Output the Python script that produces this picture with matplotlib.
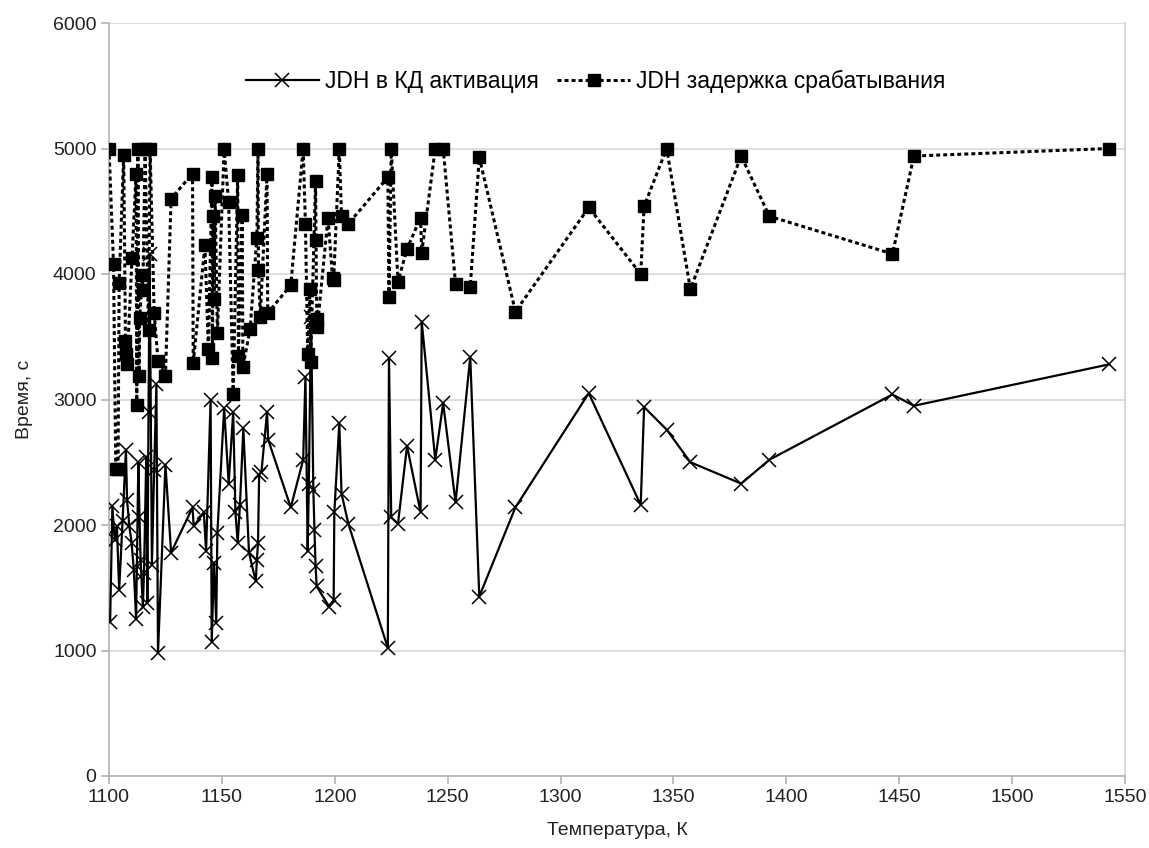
import matplotlib
matplotlib.use("Agg")
import matplotlib.pyplot as plt

plt.rcParams['font.family'] = ['Liberation Sans', 'DejaVu Sans']

# JDH в КД активация
act_temp = [1100.5, 1101.5, 1102.5, 1103.5, 1104.5, 1106.0, 1107.5, 1108.0, 1109.0, 1110.0,
            1111.0, 1112.0, 1113.0, 1113.5, 1114.0, 1115.0, 1115.5, 1116.5, 1117.0, 1117.5,
            1118.0, 1119.0, 1120.0, 1121.0, 1121.7, 1125.0, 1127.5, 1137.0, 1137.5, 1142.0,
            1143.0, 1145.0, 1145.5, 1146.5, 1147.5, 1148.0, 1151.0, 1153.0, 1155.0, 1156.0,
            1157.0, 1158.0, 1159.5, 1162.0, 1165.0, 1165.5, 1166.0, 1166.5, 1167.5, 1170.0,
            1170.5, 1180.5, 1186.0, 1187.0, 1188.0, 1188.5, 1189.5, 1190.5, 1191.0, 1191.5,
            1192.0, 1197.5, 1199.5, 1199.8, 1202.0, 1203.0, 1206.0, 1223.5, 1224.0, 1225.0,
            1228.0, 1232.0, 1238.0, 1238.5, 1244.5, 1248.0, 1253.5, 1260.0, 1264.0, 1280.0,
            1312.5, 1335.5, 1337.0, 1347.0, 1357.5, 1380.0, 1392.5, 1447.0, 1456.5, 1543.0]
act_time = [1230, 2150, 1880, 1990, 1480, 2030, 2600, 2200, 1990, 1860,
            1640, 1250, 2500, 2060, 1720, 1350, 1620, 2540, 1380, 2900,
            4160, 1680, 2440, 3120, 980, 2480, 1780, 2140, 1990, 2100,
            1790, 3000, 1070, 1700, 1220, 1940, 2930, 2330, 2900, 2100,
            1860, 2160, 2770, 1780, 1550, 1720, 1860, 2400, 2420, 2900,
            2680, 2140, 2520, 3180, 1790, 2330, 3660, 2280, 1960, 1670,
            1510, 1350, 1400, 2100, 2810, 2250, 2010, 1020, 3330, 2060,
            2010, 2630, 2100, 3620, 2520, 2970, 2180, 3340, 1430, 2140,
            3050, 2160, 2940, 2760, 2500, 2330, 2520, 3040, 2950, 3280]

# JDH задержка срабатывания
delay_temp = [1100.0, 1102.0, 1103.0, 1104.0, 1104.5, 1106.5, 1107.3, 1107.6, 1108.0, 1110.2,
              1112.0, 1112.3, 1112.8, 1113.3, 1113.6, 1114.8, 1115.0, 1116.0, 1117.5, 1118.2,
              1120.0, 1121.7, 1125.0, 1127.5, 1137.0, 1137.3, 1142.5, 1144.0, 1145.6, 1145.8,
              1146.2, 1146.5, 1147.0, 1148.0, 1151.0, 1153.0, 1155.0, 1157.0, 1157.3, 1159.0,
              1159.3, 1162.5, 1165.5, 1166.0, 1166.2, 1167.0, 1170.0, 1170.3, 1180.5, 1186.0,
              1187.0, 1188.0, 1189.0, 1189.3, 1191.5, 1191.7, 1192.0, 1192.3, 1197.0, 1199.0,
              1199.5, 1202.0, 1203.0, 1206.0, 1223.5, 1224.0, 1225.0, 1228.0, 1232.0, 1238.0,
              1238.5, 1244.5, 1248.0, 1253.5, 1260.0, 1264.0, 1280.0, 1312.5, 1335.5, 1337.0,
              1347.0, 1357.5, 1380.0, 1392.5, 1447.0, 1456.5, 1543.0]
delay_time = [5000, 4080, 2450, 2450, 3930, 4950, 3470, 3360, 3280, 4130,
              4800, 2960, 5000, 3190, 3650, 3990, 3870, 5000, 3550, 5000,
              3690, 3310, 3190, 4600, 4800, 3290, 4230, 3400, 4770, 3330,
              4460, 3800, 4620, 3530, 5000, 4570, 3040, 4790, 3350, 4470,
              3260, 3560, 4290, 5000, 4030, 3660, 4800, 3690, 3910, 5000,
              4400, 3360, 3880, 3300, 4740, 4270, 3640, 3580, 4450, 3970,
              3950, 5000, 4460, 4400, 4770, 3820, 5000, 3940, 4200, 4450,
              4170, 5000, 5000, 3920, 3900, 4930, 3700, 4530, 4000, 4540,
              5000, 3880, 4940, 4460, 4160, 4940, 5000]

x_ticks = list(range(1100, 1551, 50))
y_ticks = list(range(0, 6001, 1000))

fig = plt.figure(figsize=(11.49, 8.48), dpi=100)
ax = fig.add_axes([109 / 1149, 1 - 776 / 848, (1125 - 109) / 1149, (776 - 23) / 848])

ax.plot(act_temp, act_time, color='black', lw=1.6, marker='x', ms=10, mew=1.1,
        label='JDH в КД активация', zorder=3)
ax.plot(delay_temp, delay_time, color='black', lw=2.2, ls=(0, (1.3, 1.0)), marker='s',
        ms=8, label='JDH задержка срабатывания', zorder=3)

ax.set_xlim(1100, 1550)
ax.set_ylim(0, 6000)
ax.set_xticks(x_ticks)
ax.set_yticks(y_ticks)
ax.yaxis.grid(True, color='#d9d9d9', lw=1.2)
ax.set_axisbelow(True)

ax.spines['top'].set_visible(False)
ax.spines['right'].set_color('#d0d0d0')
ax.spines['right'].set_linewidth(1.2)
for side in ('left', 'bottom'):
    ax.spines[side].set_color('#b3b3b3')
    ax.spines[side].set_linewidth(1.2)
ax.tick_params(axis='both', direction='out', length=6, width=1.2, color='#b3b3b3',
               labelsize=14, labelcolor='#222222', pad=3)

ax.set_xlabel('Температура, К', fontsize=14, color='#222222', labelpad=12)
ax.set_ylabel('Время, с', fontsize=14, color='#222222', labelpad=14)

ax.legend(loc='upper center', bbox_to_anchor=(0.479, 0.965), ncol=2, frameon=False,
          fontsize=16.5, handlelength=3.2, handletextpad=0.25, columnspacing=0.8)

fig.savefig('out.png', dpi=100)
